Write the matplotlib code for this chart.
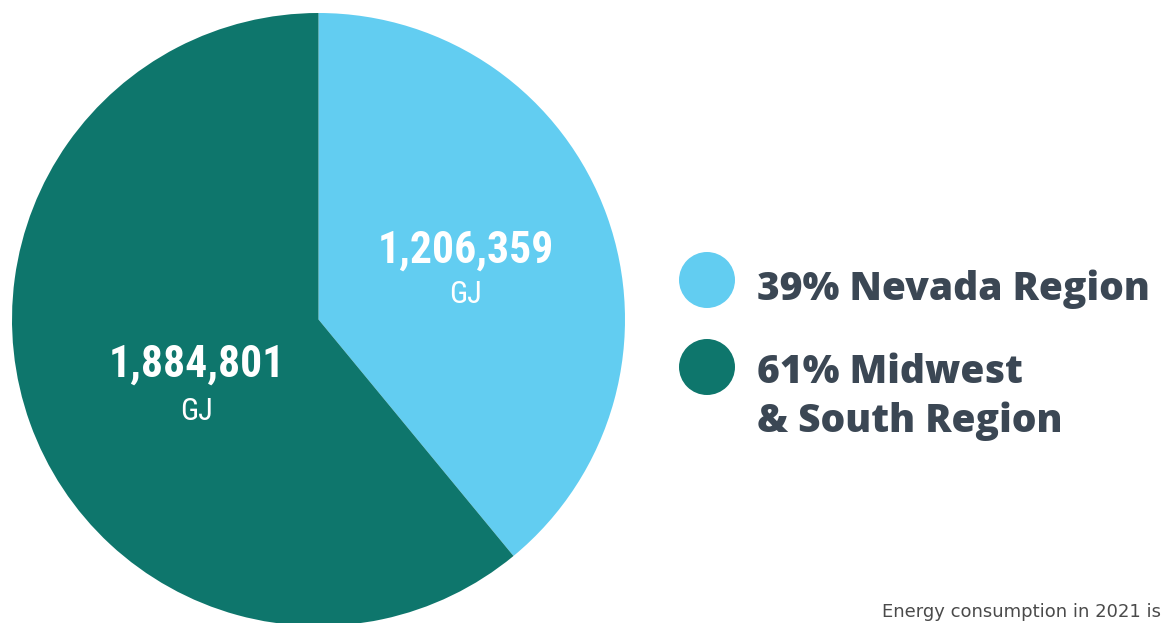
import matplotlib
matplotlib.use("Agg")
import matplotlib.pyplot as plt
from matplotlib.patches import Circle

# Data
regions = ["Nevada Region", "Midwest\n& South Region"]
values_gj = [1206359, 1884801]
value_labels = ["1,206,359", "1,884,801"]
unit = "GJ"
colors = ["#62CDF1", "#0E766C"]
footer = "Energy consumption in 2021 is"

W, H = 1162, 623
fig = plt.figure(figsize=(W / 100, H / 100), dpi=100)
ax = fig.add_axes([0, 0, 1, 1])

def Y(y):
    return H - y

cx, cy, r = 318.5, Y(319.5), 306.5
ax.pie(values_gj, colors=colors, startangle=90, counterclock=False,
       center=(cx, cy), radius=r, wedgeprops=dict(linewidth=0))
ax.set_xlim(0, W)
ax.set_ylim(0, H)
ax.set_aspect("auto")
ax.axis("off")

num_font = ["Roboto Condensed", "DejaVu Sans Condensed", "Roboto", "DejaVu Sans"]
# value labels: (center x, baseline number, baseline unit)
pos = [(465.5, 263, 303), (197, 377, 420)]
for (x, yn, yu), lab in zip(pos, value_labels):
    ax.text(x, Y(yn), lab, color="white", fontsize=31.5, family=num_font,
            fontstretch="condensed", fontweight="bold",
            ha="center", va="baseline")
    ax.text(x, Y(yu), unit, color="white", fontsize=22,
            family=num_font, fontstretch="condensed", fontweight="normal",
            ha="center", va="baseline")

# legend
total = sum(values_gj)
pcts = [round(100 * v / total) for v in values_gj]
legend_font = ["Open Sans", "DejaVu Sans"]
text_color = "#3B4754"
circle_y = [280, 367]
base_y = [300, 383]
for c, cyy, by, p, name in zip(colors, circle_y, base_y, pcts, regions):
    ax.add_patch(Circle((707, Y(cyy)), 28, color=c, linewidth=0))
    for i, line in enumerate(f"{p}% {name}".split("\n")):
        ax.text(757, Y(by + 49 * i), line, color=text_color, fontsize=28,
                fontweight=800, family=legend_font, ha="left",
                va="baseline")

ax.text(882, Y(617), footer, color="#4A4A4A", fontsize=13,
        family=["DejaVu Sans"], ha="left", va="baseline")

fig.savefig("out.png", dpi=100)
